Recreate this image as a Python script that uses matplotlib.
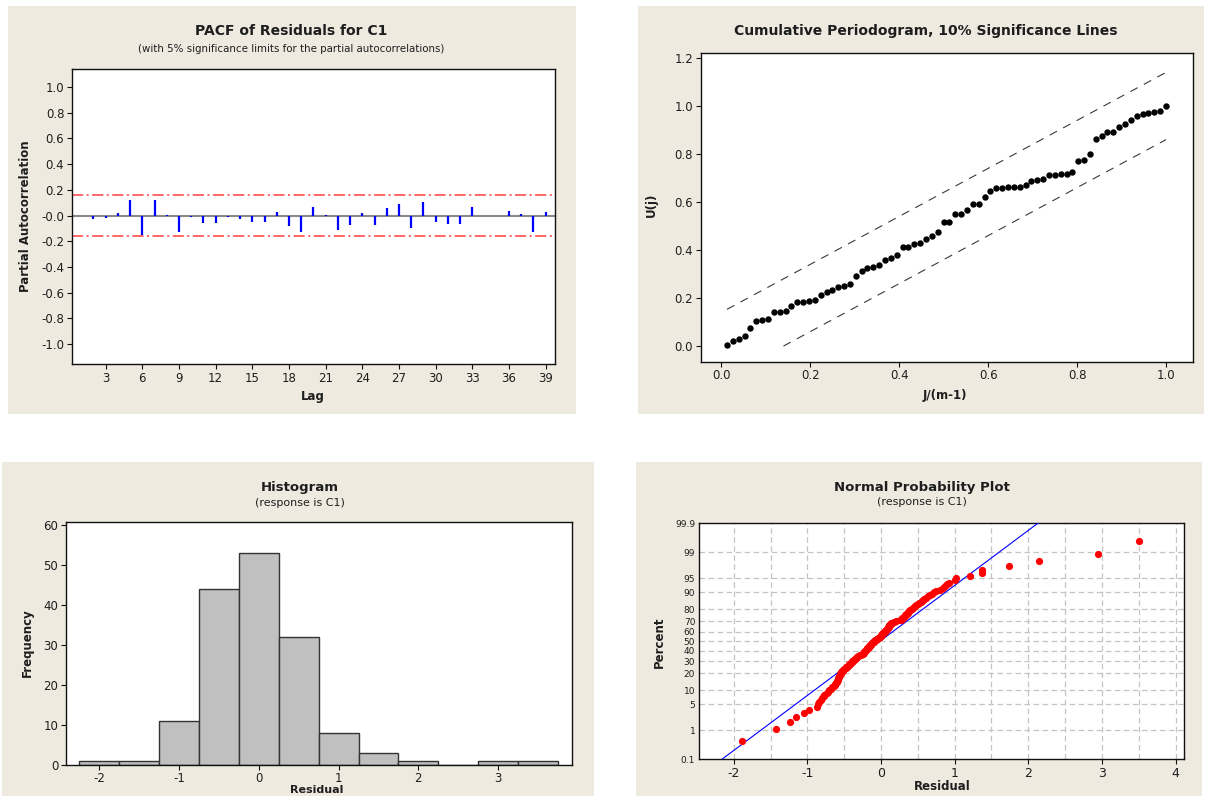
import numpy as np
import matplotlib
matplotlib.use("Agg")
import matplotlib.pyplot as plt
from matplotlib.patches import Rectangle
from statistics import NormalDist

# ---------------- data ----------------
lags = list(range(1, 40))
pacf_values = [0.0, -0.03, -0.02, 0.02, 0.12, -0.15, 0.12, 0.005, -0.13, -0.015,
               -0.055, -0.055, -0.015, -0.03, -0.047, -0.047, 0.03, -0.083, -0.125, 0.07,
               0.003, -0.11, -0.075, 0.02, -0.075, 0.062, 0.088, -0.10, 0.106, -0.047,
               -0.065, -0.065, 0.07, 0.0, 0.0, 0.036, 0.013, -0.125, 0.03]
pacf_limit = 0.16
pacf_xticks = [3, 6, 9, 12, 15, 18, 21, 24, 27, 30, 33, 36, 39]

n_freq = 76
cum_periodogram = [0.003, 0.020, 0.029, 0.043, 0.075, 0.106, 0.107, 0.111, 0.142, 0.144,
                   0.147, 0.169, 0.183, 0.185, 0.187, 0.191, 0.211, 0.224, 0.233, 0.247,
                   0.250, 0.260, 0.290, 0.312, 0.325, 0.328, 0.338, 0.357, 0.368, 0.378,
                   0.411, 0.412, 0.424, 0.429, 0.447, 0.457, 0.475, 0.515, 0.517, 0.549,
                   0.550, 0.567, 0.590, 0.593, 0.622, 0.647, 0.657, 0.660, 0.662, 0.664,
                   0.664, 0.669, 0.686, 0.693, 0.694, 0.713, 0.714, 0.715, 0.716, 0.725,
                   0.771, 0.774, 0.800, 0.861, 0.874, 0.890, 0.892, 0.914, 0.924, 0.940,
                   0.957, 0.967, 0.969, 0.975, 0.978, 1.000]
ks_offset = 0.14

hist_mids = [-2.0, -1.5, -1.0, -0.5, 0.0, 0.5, 1.0, 1.5, 2.0, 2.5, 3.0, 3.5]
hist_counts = [1, 1, 11, 44, 53, 32, 8, 3, 1, 0, 1, 1]

residuals = [-1.89, -1.42, -1.23, -1.16, -1.05, -0.98, -0.87, -0.86, -0.84, -0.82,
             -0.80, -0.78, -0.77, -0.74, -0.72, -0.70, -0.68, -0.66, -0.64, -0.63,
             -0.62, -0.61, -0.60, -0.60, -0.59, -0.58, -0.58, -0.57, -0.57, -0.56,
             -0.56, -0.55, -0.54, -0.53, -0.52, -0.51, -0.50, -0.48, -0.47, -0.46,
             -0.45, -0.44, -0.43, -0.42, -0.41, -0.40, -0.39, -0.38, -0.37, -0.36,
             -0.35, -0.34, -0.33, -0.32, -0.31, -0.29, -0.27, -0.245, -0.24, -0.235,
             -0.23, -0.225, -0.22, -0.21, -0.20, -0.195, -0.19, -0.18, -0.17, -0.165,
             -0.16, -0.15, -0.14, -0.13, -0.125, -0.12, -0.11, -0.10, -0.09, -0.08,
             -0.07, -0.06, -0.05, -0.035, -0.02, -0.01, 0.0, 0.005, 0.01, 0.015,
             0.02, 0.03, 0.04, 0.05, 0.06, 0.065, 0.07, 0.08, 0.085, 0.09,
             0.10, 0.105, 0.11, 0.115, 0.12, 0.13, 0.14, 0.15, 0.17, 0.20,
             0.26, 0.27, 0.28, 0.29, 0.30, 0.31, 0.32, 0.33, 0.34, 0.35,
             0.36, 0.37, 0.38, 0.39, 0.40, 0.42, 0.43, 0.45, 0.46, 0.48,
             0.50, 0.52, 0.54, 0.55, 0.57, 0.59, 0.61, 0.64, 0.67, 0.69,
             0.72, 0.74, 0.80, 0.84, 0.87, 0.90, 0.93, 1.01, 1.02, 1.21,
             1.37, 1.37, 1.74, 2.14, 2.95, 3.50]
prob_ticks = [0.1, 1, 5, 10, 20, 30, 40, 50, 60, 70, 80, 90, 95, 99, 99.9]
prob_ticklabels = ["0.1", "1", "5", "10", "20", "30", "40", "50", "60", "70",
                   "80", "90", "95", "99", "99.9"]

# ---------------- figure ----------------
W, H = 1208, 796
plt.rcParams['font.family'] = ['DejaVu Sans']
plt.rcParams['lines.scale_dashes'] = False
plt.rcParams['axes.unicode_minus'] = False
fig = plt.figure(figsize=(W / 100, H / 100), dpi=100)
fig.patch.set_facecolor('white')

BEIGE = '#EEEAE0'
TXT = '#1e1e1e'


def panel(l, r, t, b):
    fig.patches.append(Rectangle((l / W, 1 - b / H), (r - l) / W, (b - t) / H,
                                 transform=fig.transFigure, facecolor=BEIGE,
                                 edgecolor='none', zorder=-5))


def axes(l, r, t, b):
    ax = fig.add_axes([l / W, 1 - b / H, (r - l) / W, (b - t) / H])
    ax.set_zorder(2)
    ax.set_facecolor('white')
    for s in ax.spines.values():
        s.set_color('#101010')
        s.set_linewidth(1.0)
    ax.tick_params(direction='out', length=3.5, width=0.8, colors='#101010',
                   labelcolor=TXT, labelsize=8.5, pad=2)
    return ax


def ftext(x, y, s, **kw):
    kw.setdefault('ha', 'center')
    kw.setdefault('va', 'center')
    kw.setdefault('color', TXT)
    t = fig.text(x / W, 1 - y / H, s, **kw)
    t.set_zorder(3)


# ---------- Panel 1: PACF ----------
panel(8, 576, 6, 414)
ax1 = axes(72, 555, 69, 364)
ax1.axhline(0, color='#8a8a8a', lw=1.5, zorder=1)
ax1.vlines(lags, 0, pacf_values, color='#0000FF', lw=1.6, zorder=3)
for lim in (pacf_limit, -pacf_limit):
    ax1.axhline(lim, color='#FF5A5A', lw=1.3, dashes=(8, 2.5, 1.5, 2.5), zorder=2)
ax1.set_xlim(0.25, 39.76)
ax1.set_ylim(-1.155, 1.14)
ax1.set_xticks(pacf_xticks)
yt1 = np.round(np.arange(-1.0, 1.01, 0.2), 1)
ax1.set_yticks(yt1)
ax1.set_yticklabels([f"{v:.1f}" for v in yt1])
ftext(291, 31, "PACF of Residuals for C1", fontsize=10, fontweight='bold')
ftext(291, 49, "(with 5% significance limits for the partial autocorrelations)", fontsize=7.4)
ftext(313, 396, "Lag", fontsize=8.5, fontweight='bold')
ftext(26, 216, "Partial Autocorrelation", fontsize=8.5, fontweight='bold', rotation=90)

# ---------- Panel 2: Cumulative periodogram ----------
panel(638, 1204, 6, 414)
ax2 = axes(700.7, 1192.7, 52.7, 361.7)
J = np.arange(1, n_freq + 1) / n_freq
U = np.array(cum_periodogram)
upper_x = np.array([J[0], 1.0])
ax2.plot(upper_x, upper_x + ks_offset, color='#3a3a3a', lw=0.8, dashes=(6, 5))
lower_x = np.array([ks_offset, 1.0])
ax2.plot(lower_x, lower_x - ks_offset, color='#3a3a3a', lw=0.8, dashes=(6, 5))
ax2.plot(J, U, 'o', color='black', markersize=4.6, markeredgewidth=0)
ax2.set_xlim(-0.046, 1.06)
ax2.set_ylim(-0.065, 1.222)
xt2 = np.round(np.arange(0, 1.01, 0.2), 1)
ax2.set_xticks(xt2)
ax2.set_xticklabels([f"{v:.1f}" for v in xt2])
yt2 = np.round(np.arange(0, 1.21, 0.2), 1)
ax2.set_yticks(yt2)
ax2.set_yticklabels([f"{v:.1f}" for v in yt2])
ftext(926, 31, "Cumulative Periodogram, 10% Significance Lines", fontsize=10, fontweight='bold')
ftext(945, 395, "J/(m-1)", fontsize=8.5, fontweight='bold')
ftext(651, 205, "U(j)", fontsize=8.5, fontweight='bold', rotation=90)

# ---------- Panel 3: Histogram ----------
panel(2, 594, 462, 800)
ax3 = axes(65.8, 571.5, 521.7, 765.3)
ax3.bar(hist_mids, hist_counts, width=0.5, color='#C0C0C0', edgecolor='#333333', lw=1.0)
ax3.set_xlim(-2.42, 3.92)
ax3.set_ylim(0, 60.7)
ax3.set_xticks([-2, -1, 0, 1, 2, 3])
ax3.set_yticks([0, 10, 20, 30, 40, 50, 60])
ax3.tick_params(labelsize=8.5)
ax3.tick_params(axis='x', pad=1)
ftext(300, 488, "Histogram", fontsize=9.5, fontweight='bold')
ftext(300, 503, "(response is C1)", fontsize=8)
ftext(317, 790, "Residual", fontsize=8, fontweight='bold')
ftext(27, 643, "Frequency", fontsize=8.5, fontweight='bold', rotation=90)

# ---------- Panel 4: Normal probability plot ----------
panel(636, 1202, 462, 800)
ax4 = axes(699.4, 1183.9, 523.3, 759.3)
nd = NormalDist()
res = np.sort(np.array(residuals))
n = len(res)
pp = (np.arange(1, n + 1) - 0.3) / (n + 0.4)
zz = np.array([nd.inv_cdf(p) for p in pp])
mu = res.mean()
sd = res.std(ddof=1)
xl = np.array([-3.0, 5.0])
zmin, zmax = nd.inv_cdf(0.001), nd.inv_cdf(0.999)
ax4.plot(xl, (xl - mu) / sd, color='#0000FF', lw=0.8, zorder=3)
ax4.plot(res, zz, 'o', color='#FF0000', markersize=5.2, markeredgewidth=0, zorder=4)
ax4.set_xlim(-2.467, 4.114)
ax4.set_ylim(zmin, zmax)
ytick_pos = [nd.inv_cdf(p / 100) for p in prob_ticks]
ax4.set_yticks(ytick_pos)
ax4.set_yticklabels(prob_ticklabels)
ax4.tick_params(axis='y', labelsize=6.5, length=0, pad=3)
ax4.set_xticks([-2, -1, 0, 1, 2, 3, 4])
ax4.tick_params(axis='x', labelsize=9)
for xv in np.arange(-2.0, 4.01, 0.5):
    ax4.axvline(xv, color='#c4c4c4', lw=0.9, dashes=(4, 2.5), zorder=1)
for yv in ytick_pos[1:-1]:
    ax4.axhline(yv, color='#c4c4c4', lw=0.9, dashes=(4, 2.5), zorder=1)
ftext(922, 487, "Normal Probability Plot", fontsize=9.5, fontweight='bold')
ftext(922, 502, "(response is C1)", fontsize=8)
ftext(942, 787, "Residual", fontsize=8.5, fontweight='bold')
ftext(659, 642, "Percent", fontsize=8.5, fontweight='bold', rotation=90)

fig.savefig("out.png", dpi=100, facecolor='white')
